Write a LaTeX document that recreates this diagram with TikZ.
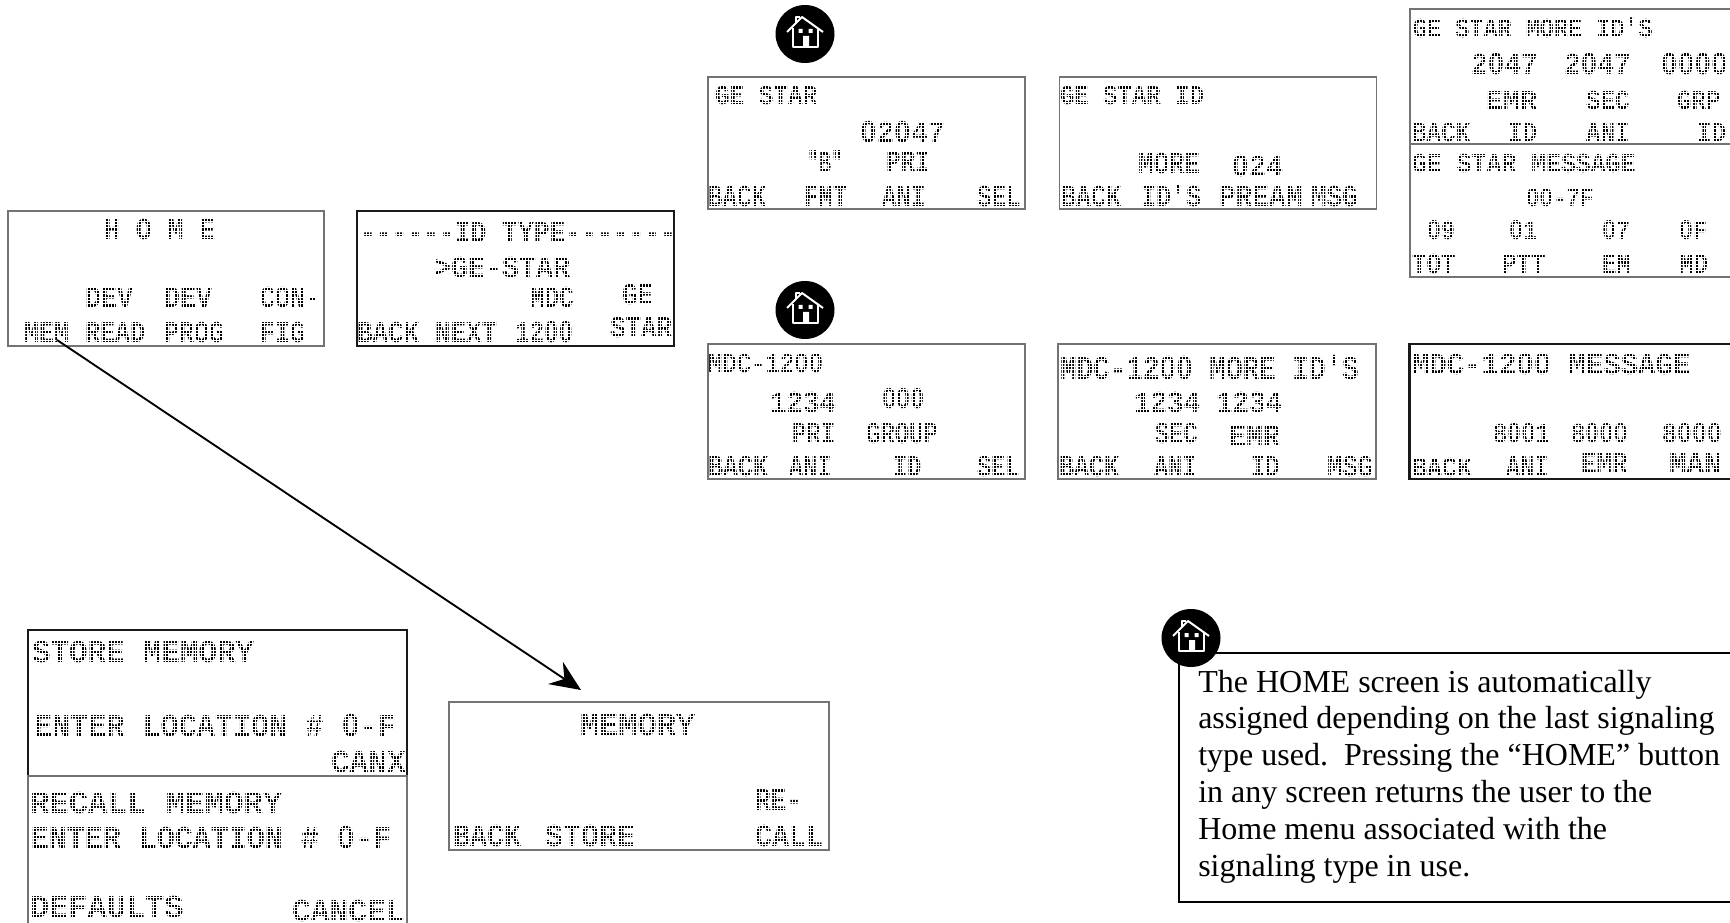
\documentclass[tikz,border=0pt]{standalone}
\usepackage{fontspec}
\setmainfont{Liberation Serif}
\newfontfamily\lcdfont{Liberation Mono}
\newfontfamily\zerofont{Liberation Sans}
\usetikzlibrary{arrows.meta,shapes.geometric}
\def\lcdpt{20}\def\lcdys{1}
% character pitch and capital height, both in pixels of the reference
\newcommand\lcdp[2]{\pgfmathsetmacro\lcdpt{1.25*#1}\pgfmathsetmacro\lcdys{#2/(1.1*#1)}}
\newcommand\z{\makebox[0.6em]{\zerofont\bfseries 0}}
\newcommand\lcdtext[1]{\scalebox{1}[\lcdys]{\fontsize{\lcdpt pt}{\lcdpt pt}\lcdfont\bfseries\selectfont #1}}
\newcommand\txt[4]{\node[lcdlabel] (#1) at (#2,#3) {\lcdtext{#4}};}
\newcommand\panel[6][]{\node[panelbox,#1,minimum width=#5*0.75pt,minimum height=#6*0.75pt] (#2) at (#3,#4) {};}
% white mesh laid over the text of one panel: it breaks the letters into dots
\newcommand\lcdmesh[4]{\draw[lcdmeshline] (#1,#2) grid (#3,#4);}
\newcommand\homeicon[3]{%
  \node[homedisc] (#1) at (#2,#3) {};
  \begin{scope}[shift={(#2,#3)}]
    \draw[houseline] (-18,-2) -- (-3,-17) -- (18,-2);
    \draw[houseline] (-9,-11) -- (-9,-17) -- (-5,-17);
    \draw[houseline] (-12,-6) -- (-12,13) -- (13,13) -- (13,-6);
    \fill[white] (-6.5,-5) rectangle (-2.5,-1) (3.5,-5) rectangle (7.5,-1) (-2,2) rectangle (4,13);
  \end{scope}}
\tikzset{
  x=0.75pt,y=-0.75pt,
  lcdlabel/.style={anchor=base west,inner sep=0pt,outer sep=0pt,text=black},
  lcdmeshline/.style={draw=white,line width=0.55pt,xstep=3*0.75pt,ystep=3.3*0.75pt},
  panelbox/.style={draw=black!55,line width=1.1pt,anchor=north west,inner sep=0pt,outer sep=0pt,fill=white},
  boldbox/.style={draw=black!90,line width=1.6pt},
  homedisc/.style={ellipse,fill=black,inner sep=0pt,minimum width=44.25pt,minimum height=43.5pt},
  houseline/.style={draw=white,line width=1.5pt,line join=round},
  memarrow/.style={draw=black,line width=1.4pt,-{Stealth[length=23pt,width=20pt,inset=8pt]}},
  notetext/.style={anchor=base west,align=left,inner sep=0pt,font=\fontsize{24}{27.6}\selectfont},
  notebox/.style={draw=black,line width=1.5pt,anchor=north west,inner sep=0pt,minimum width=600*0.75pt,minimum height=249*0.75pt}
}
\begin{document}
\begin{tikzpicture}
\useasboundingbox (0,0) rectangle (1730,923);
% Panels
\panel{phome}{8}{211}{316}{135}
\panel[boldbox]{pidtype}{357}{211}{317}{135}
\panel{pgestar}{708}{77}{317}{132}
\panel{pgeid}{1059.5}{77}{317}{132}
\panel{pgemore}{1410}{9}{340}{135}
\panel{pgemsg}{1410}{144}{340}{133}
\panel{pmdc}{708}{344}{317}{135}
\panel{pmdcmore}{1058}{344}{318}{135}
\panel[boldbox]{pmdcmsg}{1409.5}{344}{340}{135}
\panel[boldbox]{pstore}{28}{630}{379}{146}
\panel{precall}{28}{776}{379}{160}
\panel{pmemory}{449}{702}{380}{148}
% HOME
\lcdp{15.9}{20}
\txt{a1}{104}{240}{H O M E}
\lcdp{16}{20}
\txt{a2}{85}{308}{DEV}
\txt{a3}{164}{308}{DEV}
\lcdp{15}{20}
\txt{a4}{260}{308}{CON-}
\txt{mem}{24}{343}{MEM}
\txt{a5}{85}{343}{READ}
\txt{a6}{164}{343}{PROG}
\txt{a7}{260}{343}{FIG}
\lcdmesh{10}{213}{322}{344.5}
% ID TYPE
\lcdp{15.8}{20}
\txt{b1}{360}{243}{------ID TYPE-------}
\lcdp{17}{20}
\txt{b2}{434}{278}{>GE-STAR}
\lcdp{14.5}{20}
\txt{b3}{530}{308}{MDC}
\txt{b7}{515}{343}{12\z\z}
\lcdp{15.5}{20}
\txt{b4}{622}{305}{GE}
\txt{b5}{357}{343}{BACK}
\txt{b6}{435}{343}{NEXT}
\txt{b8}{610}{338}{STAR}
\lcdmesh{359}{213}{672}{344}
% GE STAR
\lcdp{14.6}{18}
\txt{c1}{715}{105}{GE STAR}
\lcdp{17}{20}
\txt{c2}{860}{143}{\z2\z47}
\lcdp{12}{20}
\txt{c3}{807}{173}{"B"}
\lcdp{14.5}{20}
\txt{c4}{886}{172}{PRI}
\txt{c5}{708}{207}{BACK}
\txt{c6}{804}{207}{FMT}
\txt{c7}{882}{207}{ANI}
\txt{c8}{977}{207}{SEL}
\lcdmesh{710}{79}{1023}{207.5}
% GE STAR ID
\lcdp{14.4}{18}
\txt{d1}{1060}{105}{GE STAR ID}
\lcdp{15.5}{20}
\txt{d2}{1138}{174}{MORE}
\lcdp{17}{20}
\txt{d3}{1232}{177}{\z24}
\lcdp{15}{20}
\txt{d4}{1061}{207}{BACK}
\txt{d5}{1141}{207}{ID'S}
\lcdp{16.7}{20}
\txt{d6}{1219}{207}{PREAM}
\lcdp{15.5}{20}
\txt{d7}{1311}{207}{MSG}
\lcdmesh{1061}{79}{1375}{207.5}
% GE STAR MORE ID'S
\lcdp{14.1}{18}
\txt{e1}{1413}{38}{GE STAR MORE ID'S}
\lcdp{16.7}{20}
\txt{e2}{1471}{75}{2\z47}
\txt{e3}{1564}{75}{2\z47}
\txt{e4}{1661}{75}{\z\z\z\z}
\lcdp{17}{18}
\txt{e5}{1486}{110}{EMR}
\lcdp{14.5}{18}
\txt{e6}{1586}{110}{SEC}
\txt{e7}{1677}{110}{GRP}
\txt{e8}{1412}{142}{BACK}
\txt{e9}{1508}{142}{ID}
\txt{e10}{1586}{142}{ANI}
\txt{e11}{1697}{142}{ID}
\lcdmesh{1411.5}{11}{1730}{142.8}
% GE STAR MESSAGE
\lcdp{14.9}{18}
\txt{f1}{1412}{173}{GE STAR MESSAGE}
\lcdp{13.5}{17}
\txt{f2}{1526}{207}{\z\z-7F}
\lcdp{14}{18}
\txt{f3}{1427}{240}{\z9}
\txt{f4}{1509}{240}{\z1}
\txt{f5}{1602}{240}{\z7}
\txt{f6}{1679}{240}{\z F}
\lcdp{14.5}{19}
\txt{f7}{1412}{274}{TOT}
\txt{f8}{1502}{274}{PTT}
\txt{f9}{1602}{274}{EM}
\txt{f10}{1679}{274}{MD}
\lcdmesh{1411.5}{145.5}{1730}{275.5}
% MDC-1200
\lcdp{14.4}{18}
\txt{g1}{708}{373}{MDC-12\z\z}
\lcdp{16.5}{20}
\txt{g2}{770}{412}{1234}
\lcdp{14.2}{19}
\txt{g3}{882}{408}{\z\z\z}
\lcdp{14.4}{20}
\txt{g4}{792}{443}{PRI}
\txt{g5}{866}{443}{GROUP}
\lcdp{15}{20}
\txt{g6}{708}{476}{BACK}
\lcdp{14.2}{20}
\txt{g7}{789}{476}{ANI}
\txt{g8}{893}{476}{ID}
\txt{g9}{977}{476}{SEL}
\lcdmesh{710}{346}{1023}{477.5}
% MDC-1200 MORE ID'S
\lcdp{16.6}{22}
\txt{h1}{1060}{379}{MDC-12\z\z{} MORE ID'S}
\lcdp{16.5}{20}
\txt{h2}{1134}{412}{1234}
\txt{h3}{1216}{412}{1234}
\lcdp{14.2}{20}
\txt{h4}{1155}{443}{SEC}
\lcdp{17}{21}
\txt{h5}{1229}{446}{EMR}
\lcdp{15}{20}
\txt{h6}{1059}{476}{BACK}
\lcdp{14.2}{20}
\txt{h7}{1154}{476}{ANI}
\txt{h8}{1251}{476}{ID}
\lcdp{15.3}{20}
\txt{h9}{1327}{476}{MSG}
\lcdmesh{1060}{346}{1374}{477.5}
% MDC-1200 MESSAGE
\lcdp{17.4}{20}
\txt{i1}{1412}{374}{MDC-12\z\z{} MESSAGE}
\lcdp{14.2}{18}
\txt{i2}{1493}{442}{8\z\z1}
\txt{i3}{1571}{442}{8\z\z\z}
\lcdp{15}{18}
\txt{i4}{1662}{442}{8\z\z\z}
\txt{i5}{1412}{476}{BACK}
\lcdp{14.2}{20}
\txt{i6}{1506}{476}{ANI}
\lcdp{15.5}{20}
\txt{i7}{1581}{473}{EMR}
\lcdp{17.5}{20}
\txt{i8}{1669}{473}{MAN}
\lcdmesh{1411}{346}{1730}{477}
% STORE / RECALL / MEMORY
\lcdp{18.5}{21}
\txt{j1}{32}{662}{STORE MEMORY}
\lcdp{18.1}{21}
\txt{j2}{34}{736}{ENTER LOCATION \# \z-F}
\lcdp{18.7}{21}
\txt{j3}{331}{772}{CANX}
\lcdmesh{30}{632}{405}{774}
\lcdp{19.4}{21}
\txt{k1}{30}{813}{RECALL MEMORY}
\lcdp{18}{21}
\txt{k2}{31}{848}{ENTER LOCATION \# \z-F}
\lcdp{19.2}{21}
\txt{k3}{30}{917}{DEFAULTS}
\lcdp{18.8}{21}
\txt{k4}{292}{921}{CANCEL}
\lcdmesh{30}{778}{406}{923}
\lcdp{19.2}{21}
\txt{l1}{580}{735}{MEMORY}
\lcdp{15.7}{21}
\txt{l2}{755}{810}{RE-}
\lcdp{17}{21}
\txt{l3}{453}{846}{BACK}
\txt{l5}{755}{846}{CALL}
\lcdp{18}{21}
\txt{l4}{545}{846}{STORE}
\lcdmesh{451}{704}{827}{848.5}
% Arrow
\coordinate (memstart) at (57,340);
\coordinate (memtip) at (581,690);
\draw[memarrow] (memstart) -- (memtip);
% Note
\node[notebox] (note) at (1178,652) {};
\node[notetext] (notetxt) at (1198,876) {The HOME screen is automatically\\assigned depending on the last signaling\\type used.\ \ Pressing the “HOME” button\\in any screen returns the user to the\\Home menu associated with the\\signaling type in use.};
% Icons
\homeicon{icon1}{805}{34}
\homeicon{icon2}{805}{310}
\homeicon{icon3}{1191}{638}
\end{tikzpicture}
\end{document}
